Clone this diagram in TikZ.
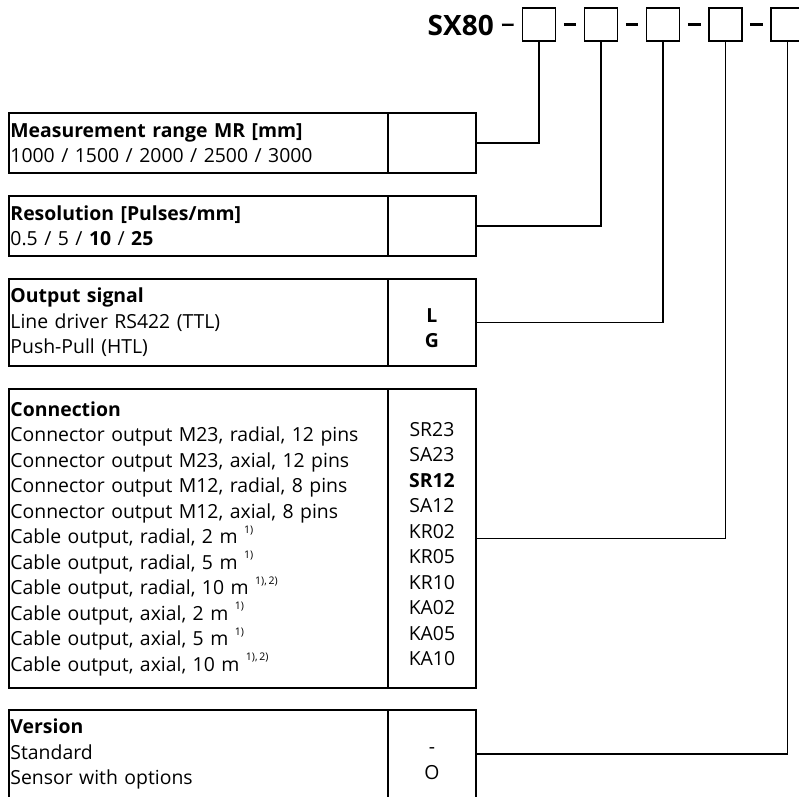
\documentclass[tikz,border=0pt]{standalone}
\usepackage{fontspec}
\setmainfont{Open Sans}
\usetikzlibrary{positioning}
\newcommand{\fnref}[1]{\raisebox{1.0ex}{\fontsize{10.5}{10.5}\selectfont #1}}

\begin{document}
\begin{tikzpicture}[x=1pt,y=-1pt,
		every node/.style={font=\fontsize{19.4}{25.5}\selectfont},
		textcell/.style={draw,line width=1.9pt,anchor=north west,minimum width=379pt,text width=376pt,inner xsep=1.5pt,inner ysep=0pt,align=left},
		codecell/.style={draw,line width=1.9pt,anchor=north west,minimum width=88pt,inner sep=0pt,align=center},
		keybox/.style={draw,line width=1.8pt,minimum width=33pt,minimum height=33pt,inner sep=0pt},
		link/.style={line width=1.7pt},
		sep/.style={line width=2.3pt,shorten <=7.5pt,shorten >=7.5pt}]
		\useasboundingbox (0,0) rectangle (799,796);
		\clip (0,0) rectangle (799,796);

		%type key
		\node[anchor=east,inner sep=0pt,font=\fontsize{28}{28}\selectfont\bfseries] (sx) at (494,25) {SX80};
		\node[keybox] (k1) at (539,24.5) {};
		\node[keybox] (k2) at (601,24.5) {};
		\node[keybox] (k3) at (663,24.5) {};
		\node[keybox] (k4) at (725.5,24.5) {};
		\node[keybox] (k5) at (787.5,24.5) {};

		%separators
		\draw[sep,shorten <=8pt,shorten >=8pt] (sx.east) -- (k1.west);
		\draw[sep] (k1.east) -- (k2.west);
		\draw[sep] (k2.east) -- (k3.west);
		\draw[sep] (k3.east) -- (k4.west);
		\draw[sep] (k4.east) -- (k5.west);

		%measurement range
		\node[textcell,minimum height=60pt] (range) at (8,112) {\textbf{Measurement range MR [mm]}\\1000 / 1500 / 2000 / 2500 / 3000};
		\node[codecell,minimum height=60pt] (rangecode) at (387,112) {};

		%resolution
		\node[textcell,minimum height=60pt] (res) at (8,195) {\textbf{Resolution [Pulses/mm]}\\0.5 / 5 / \textbf{10} / \textbf{25}};
		\node[codecell,minimum height=60pt] (rescode) at (387,195) {};

		%output signal
		\node[textcell,minimum height=87pt] (out) at (8,278) {\textbf{Output signal}\\Line driver RS422 (TTL)\\Push-Pull (HTL)};
		\node[codecell,minimum height=87pt] (outcode) at (387,278) {\mbox{}\\\textbf{L}\\\textbf{G}};

		%connection
		\node[textcell,minimum height=299pt] (conn) at (8,388) {\textbf{Connection}\\
			Connector output M23, radial, 12 pins\\
			Connector output M23, axial, 12 pins\\
			Connector output M12, radial, 8 pins\\
			Connector output M12, axial, 8 pins\\
			Cable output, radial, 2 m \fnref{1)}\\
			Cable output, radial, 5 m \fnref{1)}\\
			Cable output, radial, 10 m \fnref{1),\,2)}\\
			Cable output, axial, 2 m \fnref{1)}\\
			Cable output, axial, 5 m \fnref{1)}\\
			Cable output, axial, 10 m \fnref{1),\,2)}};
		\node[codecell,minimum height=299pt] (conncode) at (387,388) {\mbox{}\\SR23\\SA23\\\textbf{SR12}\\SA12\\KR02\\KR05\\KR10\\KA02\\KA05\\KA10};

		%version
		\node[textcell,minimum height=88pt] (ver) at (8,709) {\textbf{Version}\\Standard\\Sensor with options};
		\node[codecell,minimum height=88pt] (vercode) at (387,709) {\mbox{}\\-\\O};

		%links
		\draw[link] (k1.south) |- (rangecode.east);
		\draw[link] (k2.south) |- (rescode.east);
		\draw[link] (k3.south) |- (outcode.east);
		\draw[link] (k4.south) |- (conncode.east);
		\draw[link] (k5.south) |- (vercode.east);
	\end{tikzpicture}
\end{document}
